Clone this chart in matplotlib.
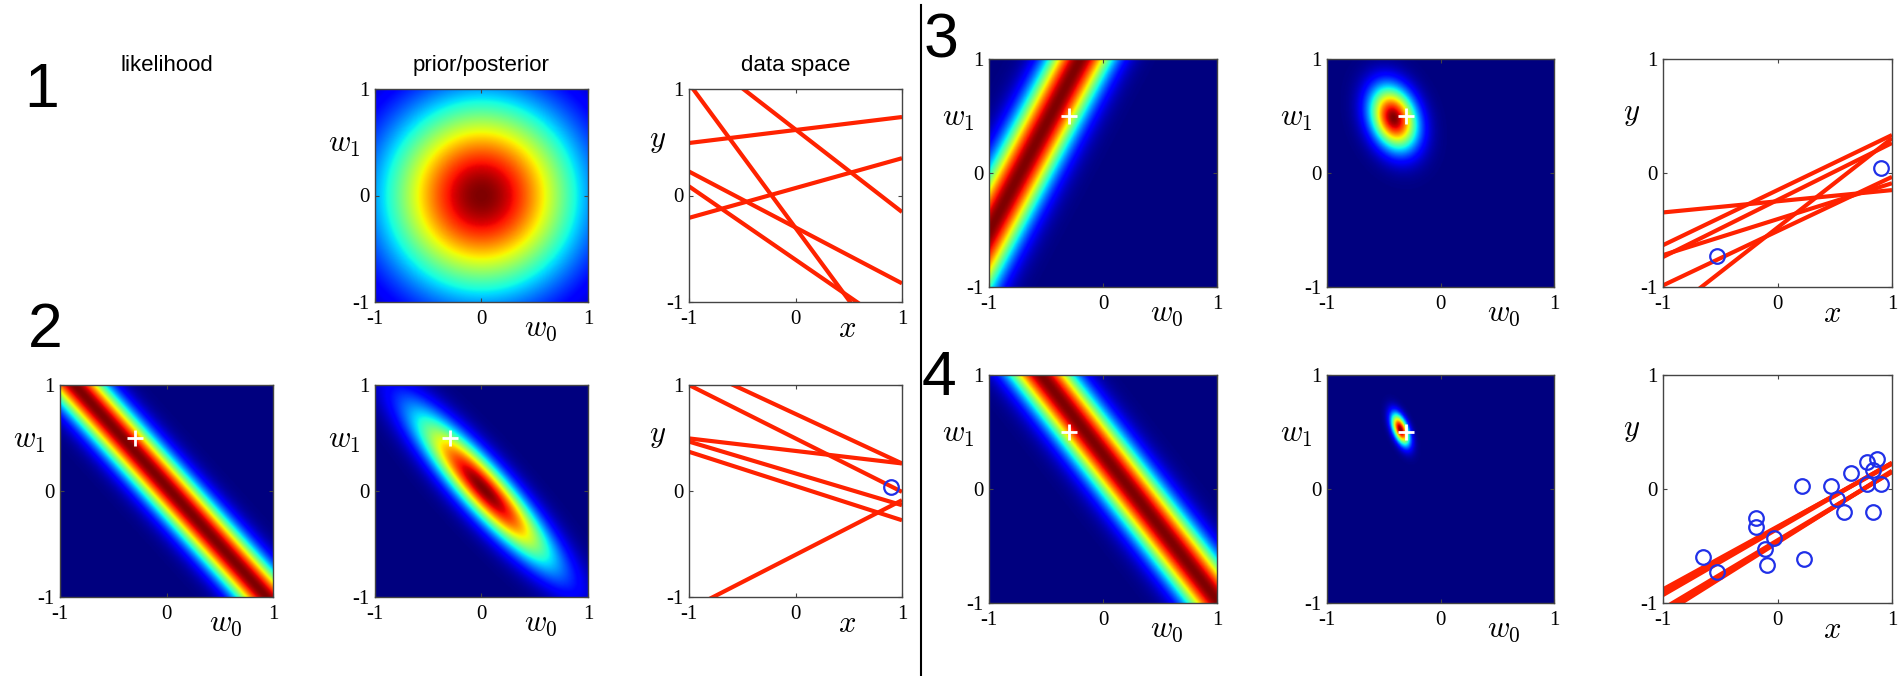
import numpy as np
import matplotlib.pyplot as plt
from matplotlib.lines import Line2D

plt.rcParams['mathtext.fontset'] = 'cm'

W, H = 1902, 676

ALPHA = 2.5
BETA = 25.0
TRUE_W0, TRUE_W1 = -0.3, 0.5

# observed points, in order of arrival (the last one is the row 4 likelihood)
pts_x = [0.90, -0.53, -0.65, -0.19, -0.19, -0.11, -0.09, -0.03, 0.21, 0.23,
         0.47, 0.52, 0.58, 0.64, 0.87, 0.83, 0.78, 0.83, 0.78]
pts_y = [0.04, -0.73, -0.60, -0.25, -0.33, -0.53, -0.67, -0.43, 0.03, -0.61,
         0.03, -0.09, -0.20, 0.14, 0.26, 0.17, 0.04, -0.20, 0.24]

# how many points each row has seen
n_seen = [0, 1, 2, 19]

row1_w0 = [-0.304, 0.62, 0.615, 0.07, -0.30, -0.603]
row1_w1 = [-1.356, -0.775, 0.122, 0.28, -0.525, -0.689]
row2_w0 = [0.496, 0.727, 0.378, 0.166, 0.047, -0.602]
row2_w1 = [-0.504, -0.467, -0.118, -0.30, -0.323, 0.515]
row3_w0 = [-0.248, -0.15, -0.237, -0.51, -0.479, -0.405]
row3_w1 = [0.098, 0.483, 0.50, 0.476, 0.784, 0.315]
row4_w0 = [-0.337, -0.35, -0.33, -0.46, -0.45, -0.47]
row4_w1 = [0.566, 0.58, 0.55, 0.61, 0.60, 0.63]
lines_w0 = [row1_w0, row2_w0, row3_w0, row4_w0]
lines_w1 = [row1_w1, row2_w1, row3_w1, row4_w1]

row_names = ["1", "2", "3", "4"]
titles = ["likelihood", "prior/posterior", "data space"]

# panel boxes in pixels (x0, x1) and (y0, y1)
cols_left = [(60, 273), (375, 588), (689, 902)]
cols_right = [(989, 1217), (1327, 1554), (1663, 1892)]
rows_y = [(89, 302), (385, 597), (59, 287), (375, 603)]

grid = np.linspace(-1, 1, 301)
G0, G1 = np.meshgrid(grid, grid)


def posterior(n):
    x = np.array(pts_x[:n])
    t = np.array(pts_y[:n])
    phi = np.column_stack([np.ones(n), x])
    s_inv = ALPHA * np.eye(2) + BETA * phi.T @ phi
    m = BETA * np.linalg.solve(s_inv, phi.T @ t) if n else np.zeros(2)
    d0, d1 = G0 - m[0], G1 - m[1]
    q = s_inv[0, 0] * d0**2 + 2 * s_inv[0, 1] * d0 * d1 + s_inv[1, 1] * d1**2
    return np.exp(-0.5 * q)


def likelihood(k):
    r = pts_y[k] - G0 - G1 * pts_x[k]
    return np.exp(-0.5 * BETA * r**2)


fig = plt.figure(figsize=(W / 100, H / 100), dpi=100)


def add_ax(xs, ys):
    x0, x1 = xs
    y0, y1 = ys
    return fig.add_axes([x0 / W, 1 - y1 / H, (x1 - x0) / W, (y1 - y0) / H])


def style(ax, xs, ys, xl, yl, lab_x, lab_y):
    wpx = xs[1] - xs[0]
    hpx = ys[1] - ys[0]
    ax.set_xlim(-1, 1)
    ax.set_ylim(-1, 1)
    ax.set_xticks([-1, 0, 1])
    ax.set_yticks([-1, 0, 1])
    ax.set_xticklabels(["-1", "0", "1"], family="Liberation Serif", fontsize=15)
    ax.set_yticklabels(["-1", "0", "1"], family="Liberation Serif", fontsize=15)
    ax.tick_params(direction="in", length=3, width=0.8, top=True, right=True,
                   color="#444444")
    ax.tick_params(axis="x", pad=6)
    ax.tick_params(axis="y", pad=4)
    for s in ax.spines.values():
        s.set_color("#444444")
        s.set_linewidth(1.0)
    ax.text(lab_x, -27 / hpx, xl, transform=ax.transAxes, fontsize=22,
            ha="center", va="center")
    ax.text(-31 / wpx, lab_y, yl, transform=ax.transAxes, fontsize=22,
            ha="center", va="center")


def heat(ax, img, cross=True):
    ax.imshow(img, extent=[-1, 1, -1, 1], origin="lower", cmap="jet",
              vmin=0, vmax=img.max(), aspect="auto", interpolation="bilinear")
    if cross:
        ax.plot(TRUE_W0, TRUE_W1, marker="+", color="white", ms=12, mew=2)


for r in range(4):
    cols = cols_left if r < 2 else cols_right
    ys = rows_y[r]
    n = n_seen[r]

    # likelihood of the newest point
    if n > 0:
        ax = add_ax(cols[0], ys)
        heat(ax, likelihood(n - 1))
        style(ax, cols[0], ys, r"$w_0$", r"$w_1$", 0.78, 0.74)

    # prior / posterior
    ax = add_ax(cols[1], ys)
    heat(ax, posterior(n), cross=n > 0)
    style(ax, cols[1], ys, r"$w_0$", r"$w_1$", 0.78, 0.74)

    # data space
    ax = add_ax(cols[2], ys)
    xx = np.array([-1.0, 1.0])
    for w0, w1 in zip(lines_w0[r], lines_w1[r]):
        ax.plot(xx, w0 + w1 * xx, color="#ff2200", lw=3, solid_capstyle="butt")
    if n > 0:
        ax.plot(pts_x[:n], pts_y[:n], "o", mfc="none", mec="#2030e8",
                ms=10.5, mew=1.6, clip_on=False)
    style(ax, cols[2], ys, r"$x$", r"$y$", 0.74, 0.76)

# column titles
for title, (x0, x1) in zip(titles, cols_left):
    fig.text((x0 + x1) / 2 / W, 1 - 71 / H, title, family="Liberation Sans",
             fontsize=16, ha="center", va="baseline")

# row numbers
num_pos = [(42, 107), (45, 347), (941, 58), (939, 395)]
for name, (px, py) in zip(row_names, num_pos):
    fig.text(px / W, 1 - py / H, name, family="Liberation Sans", fontsize=45,
             ha="center", va="baseline")

# divider between the two halves
fig.add_artist(Line2D([921 / W, 921 / W], [0, 1 - 5 / H], color="black", lw=1.5))

fig.savefig("out.png", dpi=100)
